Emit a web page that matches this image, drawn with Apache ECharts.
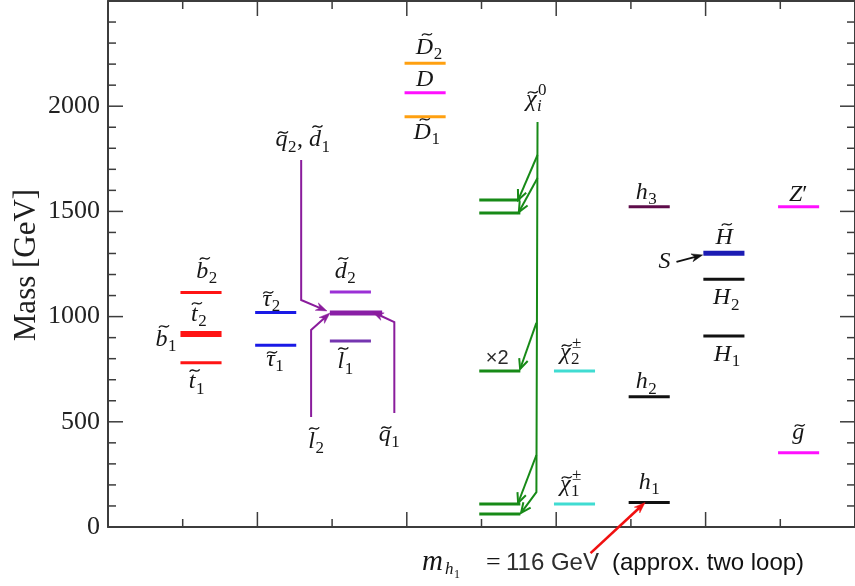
<!DOCTYPE html>
<html>
<head>
<meta charset="utf-8">
<script src="https://cdn.jsdelivr.net/npm/echarts@6/dist/echarts.min.js"></script>
<style>
  html, body { margin: 0; padding: 0; background: #ffffff; }
  #chart { width: 855px; height: 586px; }
</style>
</head>
<body>
<div id="chart"></div>
<script>
// ---- Spectrum data: masses in GeV, one array per column ----
const sbottomStopMasses   = [1114, 917, 781];          // b2 ; t2 ~ b1 ; t1
const stauMasses          = [1019, 864];               // tau2 ; tau1
const squarkSleptonMasses = [1117, 1017, 884];         // d2 ; q2,d1,l2,q1 ; l1
const exoticDMasses       = [2204, 2064, 1950];        // D2 ; D ; D1
const neutralinoMasses    = [1554, 1492, 741, 109, 62];
const charginoMasses      = [741, 109];                // chi2+- ; chi1+-
const higgsMasses         = [1522, 619, 116];          // h3 ; h2 ; h1
const heavyHiggsMasses    = [1301, 1177, 908];         // Higgsino ; H2 ; H1
const zPrimeGluinoMasses  = [1522, 353];               // Z' ; gluino
const massTicks           = [0, 500, 1000, 1500, 2000];

// ---- Styling ----
const SERIF = '"Liberation Serif", "Times New Roman", serif';
const SANS = '"Liberation Sans", Arial, sans-serif';
const INK = '#161616';
const AXIS = '#3c3c3c';
const GREEN = '#178a17';
const PURPLE = '#8a1c9c';
const X_MAX = 10, M_MAX = 2500;

const levelColumns = [
  { x: 1, masses: sbottomStopMasses,   colors: ['#ff1414', '#ff1414', '#ff1414'], widths: [3, 6, 3] },
  { x: 2, masses: stauMasses,          colors: ['#1a1ae6', '#1a1ae6'], widths: [3, 3] },
  { x: 3, masses: squarkSleptonMasses, colors: ['#9b30d6', '#8a1fa6', '#7535b0'], widths: [3, 5, 3], ext: [0, 0.15, 0] },
  { x: 4, masses: exoticDMasses,       colors: ['#ffa010', '#ff10ff', '#ffa010'], widths: [3, 3, 3] },
  { x: 5, masses: neutralinoMasses,    colors: [GREEN, GREEN, GREEN, GREEN, GREEN], widths: [3, 3, 3, 3, 3] },
  { x: 6, masses: charginoMasses,      colors: ['#40dcd2', '#40dcd2'], widths: [3, 3] },
  { x: 7, masses: higgsMasses,         colors: ['#5e0c4a', '#111111', '#111111'], widths: [3, 3, 3] },
  { x: 8, masses: heavyHiggsMasses,    colors: ['#1c1cb4', '#111111', '#111111'], widths: [5, 3, 3] },
  { x: 9, masses: zPrimeGluinoMasses,  colors: ['#ff10ff', '#ff10ff'], widths: [3, 3] }
];

// Level names: "~" puts a tilde over the next symbol, "_" / "^" attach sub / superscripts
const levelLabels = [
  ['~b_2', 1.326, 1212], ['~t_2', 1.22, 1008], ['~b_1', 0.78, 889], ['~t_1', 1.19, 689],
  ['~τ_2', 2.19, 1079], ['~τ_1', 2.24, 794],
  ['~d_2', 3.18, 1212], ['~l_1', 3.18, 784], ['~l_2', 2.79, 404], ['~q_1', 3.77, 437],
  ['~q_2, ~d_1', 2.61, 1839],
  ['~D_2', 4.30, 2277], ['D', 4.24, 2125], ['~D_1', 4.27, 1873],
  ['~χ_i^0', 5.73, 2030], ['~χ_2^±', 6.19, 827], ['~χ_1^±', 6.19, 200],
  ['h_3', 7.21, 1588], ['h_2', 7.21, 689], ['h_1', 7.25, 209],
  ['~H', 8.25, 1374], ['S', 7.45, 1260], ['H_2', 8.28, 1088], ['H_1', 8.29, 818],
  ['Z′', 9.24, 1578], ['~g', 9.24, 447]
];
const multiplicityLabels = [['×2', 5.21, 803]];

// Decay / pointer arrows, drawn in (column, mass) space
const decayArrows = [
  { color: PURPLE, head: 'solid', path: [[2.586, 1744], [2.586, 1079], [2.931, squarkSleptonMasses[1] + 10]] },
  { color: PURPLE, head: 'solid', path: [[2.719, 523], [2.719, 936], [2.971, squarkSleptonMasses[1]]] },
  { color: PURPLE, head: 'solid', path: [[3.833, 542], [3.833, 974], [3.541, squarkSleptonMasses[1] + 5]] },
  { color: GREEN, head: 'open', path: [[5.75, 1925], [5.735, 166], [5.53, neutralinoMasses[4] + 5]] },
  { color: GREEN, head: 'open', path: [[5.75, 1768], [5.49, neutralinoMasses[0]]] },
  { color: GREEN, head: 'open', path: [[5.75, 1659], [5.50, neutralinoMasses[1] + 5]] },
  { color: GREEN, head: 'open', path: [[5.735, 970], [5.517, neutralinoMasses[2] + 10]] },
  { color: GREEN, head: 'open', path: [[5.735, 342], [5.49, neutralinoMasses[3] + 5]] },
  { color: '#111111', head: 'solid', path: [[7.61, 1260], [7.96, heavyHiggsMasses[0] - 8]] },
  { color: '#f01010', head: 'solid', width: 2.6, path: [[6.46, -124], [7.19, higgsMasses[2]]] }
];

// ---- Text helpers ----
const measureCtx = document.createElement('canvas').getContext('2d');
function textWidth(str, style, size, family) {
  measureCtx.font = style + ' ' + size + 'px ' + family;
  return measureCtx.measureText(str).width;
}
const isLetter = ch => /[A-Za-zα-ωΑ-Ω]/.test(ch);
// height class of a glyph, for placing the tilde above it
function glyphTop(ch) {
  if ('bdlhkDHSZ'.indexOf(ch) >= 0) return -13.5;
  if (ch === 't') return -11.5;
  return -7.5;
}

function parseLabel(src) {
  const pieces = [];
  let tilde = false;
  for (let k = 0; k < src.length; k++) {
    const c = src[k];
    if (c === '~') { tilde = true; continue; }
    if (c === '_') { pieces[pieces.length - 1].sub = src[++k]; continue; }
    if (c === '^') { pieces[pieces.length - 1].sup = src[++k]; continue; }
    pieces.push({ base: c, tilde: tilde });
    tilde = false;
  }
  return pieces;
}

const BASE = 24, SCRIPT = 17;

function buildLabel(src, px, py) {
  const pieces = parseLabel(src);
  const laid = pieces.map(pc => {
    const bStyle = isLetter(pc.base) ? 'italic' : 'normal';
    const bw = textWidth(pc.base, bStyle, BASE, SERIF);
    const subStyle = pc.sub && isLetter(pc.sub) ? 'italic' : 'normal';
    const supStyle = pc.sup && isLetter(pc.sup) ? 'italic' : 'normal';
    const sw = pc.sub ? textWidth(pc.sub, subStyle, SCRIPT, SERIF) : 0;
    const pw = pc.sup ? textWidth(pc.sup, supStyle, SCRIPT, SERIF) : 0;
    const scriptW = Math.max(sw, pw);
    return { pc, bStyle, bw, subStyle, supStyle, scriptW, w: bw + (scriptW ? scriptW + 1 : 0) };
  });
  const total = laid.reduce((s, l) => s + l.w, 0);
  let cx = px - total / 2;
  const children = [];
  laid.forEach(l => {
    const pc = l.pc;
    children.push({
      type: 'text',
      style: { text: pc.base, x: cx, y: py, fontFamily: SERIF, fontSize: BASE, fontStyle: l.bStyle,
               fill: INK, align: 'left', verticalAlign: 'middle' }
    });
    if (pc.tilde) {
      const top = glyphTop(pc.base);
      const tx = cx + l.bw / 2 + (top < -10 ? 2.5 : 1.5);
      const ty = py + top;
      children.push({
        type: 'bezierCurve',
        shape: { x1: tx - 5, y1: ty + 1.2, cpx1: tx - 2, cpy1: ty - 4.2, cpx2: tx + 2, cpy2: ty + 4.2, x2: tx + 5, y2: ty - 1.2 },
        style: { stroke: INK, lineWidth: 1.3, fill: null }
      });
    }
    const sx = cx + l.bw + (l.bStyle === 'italic' ? 0.5 : 0);
    if (pc.sub) {
      children.push({
        type: 'text',
        style: { text: pc.sub, x: sx, y: py + 7, fontFamily: SERIF, fontSize: SCRIPT, fontStyle: l.subStyle,
                 fill: INK, align: 'left', verticalAlign: 'middle' }
      });
    }
    if (pc.sup) {
      children.push({
        type: 'text',
        style: { text: pc.sup, x: sx + 1, y: py - 9, fontFamily: SERIF, fontSize: SCRIPT, fontStyle: l.supStyle,
                 fill: INK, align: 'left', verticalAlign: 'middle' }
      });
    }
    cx += l.w;
  });
  return { type: 'group', children: children };
}

// ---- Series builders ----
function levelSeries(col) {
  return {
    type: 'custom', coordinateSystem: 'cartesian2d', silent: true,
    data: col.masses.map((m, i) => [col.x, m, i]),
    renderItem: function (params, api) {
      const i = api.value(2), x = api.value(0), m = api.value(1);
      const ext = col.ext ? col.ext[i] : 0;
      const a = api.coord([x - 0.03, m]);
      const b = api.coord([x + 0.52 + ext, m]);
      return {
        type: 'line',
        shape: { x1: a[0], y1: a[1], x2: b[0], y2: b[1] },
        style: { stroke: col.colors[i], lineWidth: col.widths[i] }
      };
    }
  };
}

const labelSeries = {
  type: 'custom', coordinateSystem: 'cartesian2d', silent: true, clip: false,
  data: levelLabels.map(l => [l[1], l[2]]),
  renderItem: function (params, api) {
    const l = levelLabels[params.dataIndex];
    const p = api.coord([l[1], l[2]]);
    return buildLabel(l[0], p[0], p[1]);
  }
};

const multiplicitySeries = {
  type: 'custom', coordinateSystem: 'cartesian2d', silent: true,
  data: multiplicityLabels.map(l => [l[1], l[2]]),
  renderItem: function (params, api) {
    const l = multiplicityLabels[params.dataIndex];
    const p = api.coord([l[1], l[2]]);
    return {
      type: 'text',
      style: { text: l[0], x: p[0], y: p[1], fontFamily: SANS, fontSize: 20, fill: '#2a2a2a',
               align: 'center', verticalAlign: 'middle' }
    };
  }
};

const arrowSeries = {
  type: 'custom', coordinateSystem: 'cartesian2d', silent: true, clip: false,
  data: decayArrows.map(a => [a.path[0][0], a.path[0][1]]),
  renderItem: function (params, api) {
    const a = decayArrows[params.dataIndex];
    const pts = a.path.map(q => api.coord(q));
    const n = pts.length;
    const tip = pts[n - 1], prev = pts[n - 2];
    const dx = tip[0] - prev[0], dy = tip[1] - prev[1];
    const len = Math.hypot(dx, dy);
    const ux = dx / len, uy = dy / len;
    const lw = a.width || 2;
    const children = [];
    if (a.head === 'solid') {
      const L = 11, W = 4;
      const bx = tip[0] - ux * L, by = tip[1] - uy * L;
      const linePts = pts.slice();
      linePts[n - 1] = [tip[0] - ux * L * 0.6, tip[1] - uy * L * 0.6];
      children.push({ type: 'polyline', shape: { points: linePts },
                      style: { stroke: a.color, lineWidth: lw, fill: null } });
      children.push({ type: 'polygon',
                      shape: { points: [tip, [bx - uy * W, by + ux * W], [tip[0] - ux * L * 0.7, tip[1] - uy * L * 0.7], [bx + uy * W, by - ux * W]] },
                      style: { fill: a.color, stroke: a.color, lineWidth: 0.5 } });
    } else {
      const L = 10, W = 4.5;
      const bx = tip[0] - ux * L, by = tip[1] - uy * L;
      children.push({ type: 'polyline', shape: { points: pts },
                      style: { stroke: a.color, lineWidth: lw, fill: null } });
      children.push({ type: 'polyline',
                      shape: { points: [[bx - uy * W, by + ux * W], tip, [bx + uy * W, by - ux * W]] },
                      style: { stroke: a.color, lineWidth: lw, fill: null } });
    }
    return { type: 'group', children: children };
  }
};

// ---- Frame ticks, pointing into the plot on all four sides ----
const columnTicks = [];
for (let v = 0; v <= X_MAX; v += 1) columnTicks.push(v);
const massMinorTicks = [];
for (let v = 0; v <= M_MAX; v += 100) massMinorTicks.push(v);
const TICK_MAJOR = 15, TICK_MINOR = 8;

// Mass ticks on the left frame: small filled bars starting at the frame line
const leftTickSeries = {
  type: 'custom', coordinateSystem: 'cartesian2d', silent: true, clip: false, z: 20,
  data: massMinorTicks.map(v => [0.5, v]),
  renderItem: function (params, api) {
    const v = api.value(1);
    const len = v % 500 === 0 ? TICK_MAJOR : TICK_MINOR;
    const p = api.coord([0, v]);
    return {
      type: 'rect',
      shape: { x: p[0], y: p[1] - 0.75, width: len, height: 1.5 },
      style: { fill: AXIS }
    };
  }
};

function frameTickGraphics() {
  const els = [];
  const seg = (x1, y1, x2, y2) => els.push({
    type: 'line', z: 100, zlevel: 1, silent: true,
    shape: { x1: x1, y1: y1, x2: x2, y2: y2 },
    style: { stroke: AXIS, lineWidth: 1.5 }
  });
  const px = p => chart.convertToPixel({ xAxisIndex: 0, yAxisIndex: 0 }, p);
  columnTicks.forEach(v => {
    const len = v % 2 === 0 ? TICK_MAJOR : TICK_MINOR;
    const b = px([v, 0]), t = px([v, M_MAX]);
    seg(b[0], b[1], b[0], b[1] - len);
    seg(t[0], t[1], t[0], t[1] + len);
  });
  massMinorTicks.forEach(v => {
    const len = v % 500 === 0 ? TICK_MAJOR : TICK_MINOR;
    const r = px([X_MAX, v]);
    seg(r[0], r[1], r[0] - len, r[1]);
  });
  return els;
}

// ---- Axes: frame lines and mass labels ----
const axisLine = { show: true, onZero: false, lineStyle: { color: AXIS, width: 2 } };
function xAxisOf(position) {
  return {
    type: 'value', position: position, min: 0, max: X_MAX, interval: 2,
    axisLine: axisLine, axisTick: { show: false }, minorTick: { show: false },
    axisLabel: { show: false }, splitLine: { show: false }
  };
}
function yAxisOf(position, labels) {
  return {
    type: 'value', position: position, min: 0, max: M_MAX, interval: 500,
    axisLine: axisLine, axisTick: { show: false }, minorTick: { show: false },
    splitLine: { show: false },
    axisLabel: {
      show: labels, fontFamily: SERIF, fontSize: 26, color: '#222', margin: 8,
      formatter: v => (massTicks.indexOf(v) >= 0 ? String(v) : '')
    }
  };
}

const textGraphics = [
  { type: 'text', x: 27, y: 265, rotation: Math.PI / 2,
    style: { text: 'Mass [GeV]', fontFamily: SERIF, fontSize: 31, fill: '#1e1e1e',
             align: 'center', verticalAlign: 'middle' } },
  { type: 'text', x: 422, y: 562,
    style: { text: 'm', fontFamily: SERIF, fontStyle: 'italic', fontSize: 29, fill: INK, verticalAlign: 'middle' } },
  { type: 'text', x: 445, y: 570,
    style: { text: 'h', fontFamily: SERIF, fontStyle: 'italic', fontSize: 17, fill: INK, verticalAlign: 'middle' } },
  { type: 'text', x: 454, y: 575,
    style: { text: '1', fontFamily: SERIF, fontSize: 12, fill: INK, verticalAlign: 'middle' } },
  { type: 'text', x: 486, y: 563,
    style: { text: '=', fontFamily: SERIF, fontSize: 26, fill: INK, verticalAlign: 'middle' } },
  { type: 'text', x: 506, y: 563,
    style: { text: '116 GeV', fontFamily: SANS, fontSize: 24, fill: '#2e2e2e', verticalAlign: 'middle' } },
  { type: 'text', x: 612, y: 563,
    style: { text: '(approx. two loop)', fontFamily: SANS, fontSize: 24, fill: '#111', verticalAlign: 'middle' } }
];

const chart = echarts.init(document.getElementById('chart'), null, { renderer: 'canvas' });
chart.setOption({
  animation: false,
  backgroundColor: '#ffffff',
  grid: { left: 108, top: 1, width: 754, height: 526 },
  xAxis: [xAxisOf('bottom'), xAxisOf('top')],
  yAxis: [yAxisOf('left', true), yAxisOf('right', false)],
  series: levelColumns.map(levelSeries).concat([leftTickSeries, arrowSeries, labelSeries, multiplicitySeries]),
  graphic: textGraphics
});
// the remaining frame ticks are placed through the laid-out axes
chart.setOption({ graphic: textGraphics.concat(frameTickGraphics()) });
</script>
</body>
</html>
